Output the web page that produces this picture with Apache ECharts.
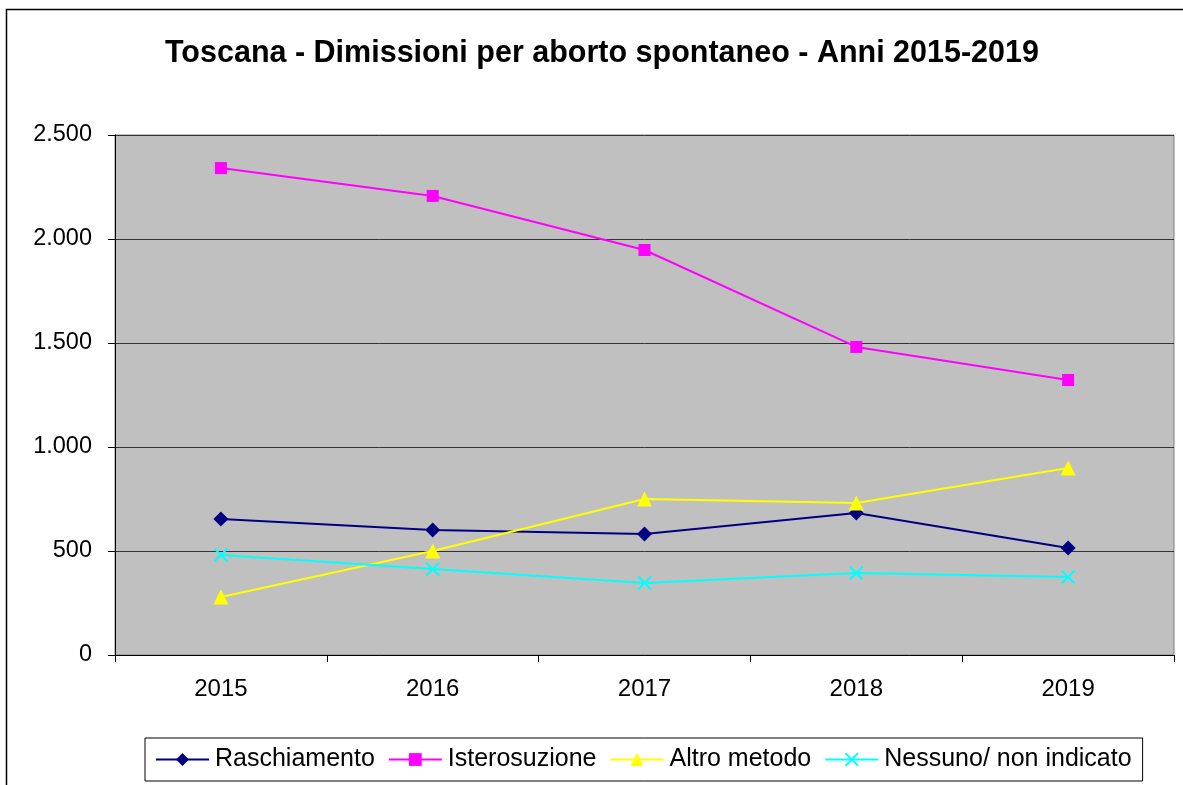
<!DOCTYPE html>
<html><head><meta charset="utf-8">
<script src="https://cdn.jsdelivr.net/npm/echarts@6/dist/echarts.min.js"></script>
<style>html,body{margin:0;padding:0;background:#fff}#c{width:1183px;height:785px}</style>
</head><body><div id="c"></div>
<script>
const categories = ['2015','2016','2017','2018','2019'];
const raschiamento = [654, 601, 582, 683, 514];
const isterosuzione = [2341, 2207, 1947, 1481, 1322];
const altroMetodo = [279, 500, 750, 731, 899];
const nessuno = [481, 413, 346, 394, 375];
const seriesNames = ['Raschiamento','Isterosuzione','Altro metodo','Nessuno/ non indicato'];

const chart = echarts.init(document.getElementById('c'));
const font = 'Liberation Sans, Arial, sans-serif';
const fmt = v => v >= 1000 ? Math.floor(v/1000) + '.' + String(v%1000).padStart(3,'0') : String(v);
chart.setOption({
  animation: false,
  backgroundColor: '#fff',
  graphic: [{type:'rect', left: 4, top: 7, shape:{width: 1300, height: 900}, style:{fill:'none', stroke:'#000', lineWidth: 1.5}, silent:true, z: -1}],
  title: {text: 'Toscana - Dimissioni per aborto spontaneo - Anni 2015-2019', left: 160, top: 33,
    textStyle: {fontFamily: font, fontSize: 30.5, fontWeight: 'bold', color: '#000'}},
  grid: {left: 115, right: 9, top: 135, bottom: 130, show: true, backgroundColor: '#c0c0c0', borderColor: '#808080', borderWidth: 1},
  legend: {bottom: 4, left: 145, itemWidth: 53, itemHeight: 16, itemGap: 13,
    padding: [9, 11, 9, 10],
    borderColor: '#000', borderWidth: 1, backgroundColor: '#fff',
    textStyle: {fontFamily: font, fontSize: 25, color: '#000', padding: [0,0,0,1]}, data: seriesNames},
  xAxis: {type: 'category', data: categories, boundaryGap: true,
    axisLine: {lineStyle: {color: '#000', width: 1}},
    axisTick: {show: true, length: 7, lineStyle: {color: '#000'}},
    axisLabel: {fontFamily: font, fontSize: 24, color: '#000', margin: 22}},
  yAxis: {type: 'value', min: 0, max: 2500, interval: 500,
    axisLine: {show: true, lineStyle: {color: '#000', width: 1}},
    axisTick: {show: true, length: 7, lineStyle: {color: '#000'}},
    splitLine: {lineStyle: {color: '#333', width: 1}},
    axisLabel: {fontFamily: font, fontSize: 23.5, color: '#000', margin: 23, formatter: fmt}},
  series: [
    {name: seriesNames[0], type: 'line', data: raschiamento, symbol: 'diamond', symbolSize: 15,
      lineStyle: {color: '#000080', width: 2}, itemStyle: {color: '#000080'}},
    {name: seriesNames[1], type: 'line', data: isterosuzione, symbol: 'rect', symbolSize: 12,
      lineStyle: {color: '#ff00ff', width: 2}, itemStyle: {color: '#ff00ff'}},
    {name: seriesNames[2], type: 'line', data: altroMetodo, symbol: 'triangle', symbolSize: 15,
      lineStyle: {color: '#ffff00', width: 2}, itemStyle: {color: '#ffff00'}},
    {name: seriesNames[3], type: 'line', data: nessuno, symbol: 'path://M0,0L10,10M10,0L0,10', symbolSize: 13,
      lineStyle: {color: '#00ffff', width: 2}, itemStyle: {color: 'none', borderColor: '#00ffff', borderWidth: 2}}
  ]
});
</script></body></html>
